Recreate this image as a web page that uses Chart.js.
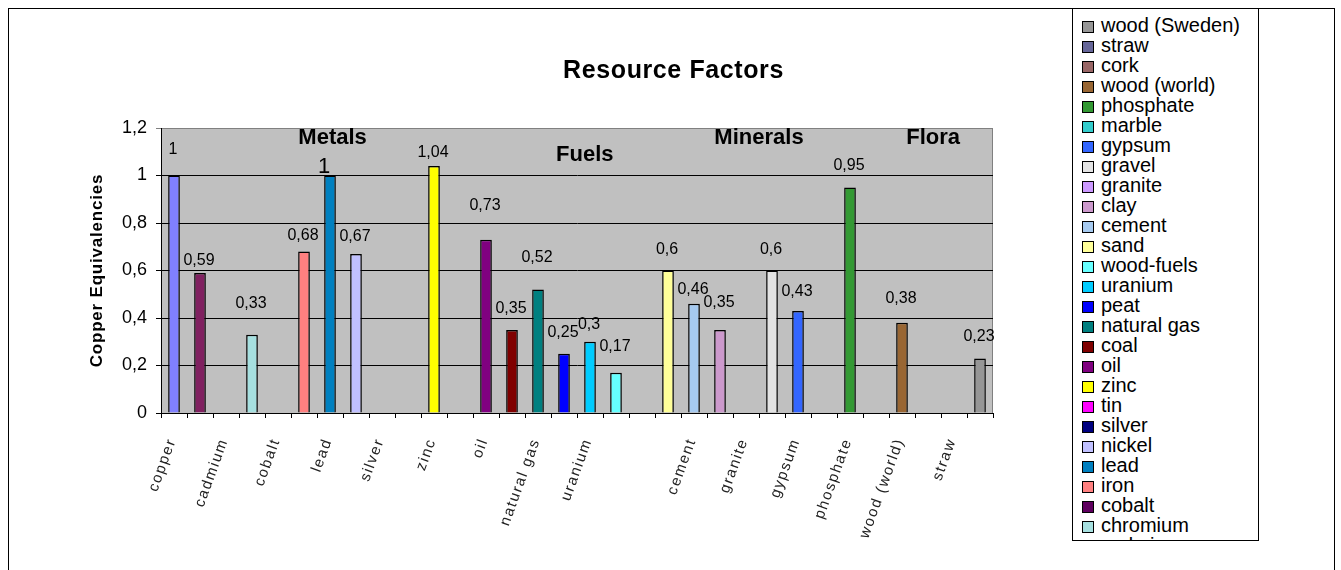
<!DOCTYPE html>
<html>
<head>
<meta charset="utf-8">
<title>Resource Factors</title>
<script src="https://cdn.jsdelivr.net/npm/chart.js@4.4.1/dist/chart.umd.min.js"></script>
<style>
  body { margin: 0; background: #fff; }
  #wrap { position: relative; width: 1341px; height: 570px; overflow: hidden; }
  #frame { position: absolute; left: 8px; top: 8px; width: 1327px; height: 600px; border: 1px solid #000; box-sizing: border-box; }
  #chart { position: absolute; left: 0; top: 0; }
  #legend {
    position: absolute; left: 1072px; top: 8px; width: 187px; height: 533px;
    border: 1px solid #000; box-sizing: border-box; background: #fff; overflow: hidden;
    padding: 6px 0 0 9px;
    font: 20px "Liberation Sans", Arial, sans-serif; color: #000;
  }
  #legend div { height: 20px; line-height: 20px; white-space: nowrap; }
  #legend span { display: inline-block; width: 12px; height: 12px; border: 1px solid #000; box-sizing: border-box; margin-right: 7px; vertical-align: -1px; }
</style>
</head>
<body>
<div id="wrap">
  <div id="frame"></div>
  <canvas id="chart" width="1341" height="570"></canvas>
  <div id="legend"></div>
</div>
<script>
// one category per resource, blank slots separate the groups
const categories = ["copper", "aluminium", "cadmium", "chromium", "cobalt", "iron", "lead", "nickel", "silver", "tin", "zinc", "",
  "oil", "coal", "natural gas", "peat", "uranium", "wood-fuels", "",
  "sand", "cement", "clay", "granite", "gravel", "gypsum", "marble", "phosphate", "",
  "wood (world)", "cork", "straw", "wood (Sweden)"];
const factors = [1, 0.59, null, 0.33, null, 0.68, 1, 0.67, null, null, 1.04, null,
  0.73, 0.35, 0.52, 0.25, 0.3, 0.17, null,
  0.6, 0.46, 0.35, null, 0.6, 0.43, null, 0.95, null,
  0.38, null, null, 0.23];
const fills = ["#8080ff", "#802060", "#ffffcc", "#a6e0e0", "#600060", "#ff8080", "#0080c0", "#c0c0ff", "#000080", "#ff00ff", "#ffff00", null,
  "#800080", "#800000", "#008080", "#0000ff", "#00ccff", "#66ffff", null,
  "#ffff99", "#a6caf0", "#cc99cc", "#cc99ff", "#e3e3e3", "#3366ff", "#33cccc", "#339933", null,
  "#996633", "#996666", "#666699", "#969696"];
const groups = ["Metals", "Fuels", "Minerals", "Flora"];
const yTicks = [0, 0.2, 0.4, 0.6, 0.8, 1, 1.2];

// where the group headings sit (category index, y value)
const groupAt = [[6.1, 1.158], [15.8, 1.087], [22.5, 1.158], [29.2, 1.158]];
// how far above each bar its value label is drawn (px)
const labelLift = [26, 12, 0, 31, 0, 16, 9, 17, 0, 0, 13, 0,
  34, 21, 32, 21, 17, 26, 0,
  21, 14, 27, 0, 21, 19, 0, 22, 0,
  24, 0, 0, 22];

const FONT = '"Liberation Sans", Arial, sans-serif';
const fmt = v => String(Math.round(v * 100) / 100).replace(".", ",");

// legend, last series on top
const legend = document.getElementById("legend");
categories.forEach((name, i) => {
  if (!name) return;
  const row = document.createElement("div");
  row.innerHTML = `<span style="background:${fills[i]}"></span>${name}`;
  legend.prepend(row);
});

const decor = {
  id: "decor",
  beforeDraw(chart) {
    const { ctx, chartArea: a } = chart;
    ctx.save();
    ctx.fillStyle = "#c0c0c0";
    ctx.fillRect(a.left, a.top, a.right - a.left, a.bottom - a.top);
    ctx.strokeStyle = "#808080";
    ctx.lineWidth = 1;
    ctx.strokeRect(a.left + 0.5, a.top + 0.5, a.right - a.left - 1, a.bottom - a.top);
    ctx.restore();
  },
  afterDraw(chart) {
    const { ctx, chartArea: a, scales } = chart;
    const x = scales.x, y = scales.y;
    const bars = chart.getDatasetMeta(0).data;
    ctx.save();
    ctx.fillStyle = "#000";

    // value labels
    ctx.textAlign = "center";
    ctx.textBaseline = "middle";
    factors.forEach((v, i) => {
      if (v == null) return;
      const big = i === 6;
      ctx.font = (big ? "22px " : "16px ") + FONT;
      ctx.fillText(fmt(v), bars[i].x - (big ? 6 : 1), bars[i].y - labelLift[i]);
    });

    // group headings
    ctx.font = "bold 22px " + FONT;
    groups.forEach((g, i) => {
      ctx.fillText(g, x.getPixelForValue(groupAt[i][0]), y.getPixelForValue(groupAt[i][1]));
    });

    // title
    ctx.font = "bold 25px " + FONT;
    ctx.letterSpacing = "0.6px";
    ctx.fillText("Resource Factors", chart.width / 2 + 3, 71);

    // y axis title
    ctx.font = "bold 17px " + FONT;
    ctx.letterSpacing = "0.8px";
    ctx.save();
    ctx.translate(97, (a.top + a.bottom) / 2);
    ctx.rotate(-Math.PI / 2);
    ctx.fillText("Copper Equivalencies", 0, 0);
    ctx.restore();

    // category labels, every other one
    ctx.font = "15px " + FONT;
    ctx.letterSpacing = "1.6px";
    ctx.fillStyle = "#222";
    ctx.textAlign = "right";
    categories.forEach((c, i) => {
      if (i % 2 || !c) return;
      ctx.save();
      ctx.translate(x.getPixelForValue(i) - 2, a.bottom + 26);
      ctx.rotate(-70 * Math.PI / 180);
      ctx.fillText(c, 0, 0);
      ctx.restore();
    });
    ctx.restore();
  }
};

new Chart(document.getElementById("chart"), {
  type: "bar",
  data: {
    labels: categories,
    datasets: [{
      data: factors,
      backgroundColor: fills,
      borderColor: "#000",
      borderWidth: 1.5,
      barPercentage: 0.45,
      categoryPercentage: 1
    }]
  },
  options: {
    responsive: false,
    animation: false,
    devicePixelRatio: 1,
    layout: { padding: { top: 128, right: 348, bottom: 152, left: 0 } },
    plugins: { legend: { display: false }, tooltip: { enabled: false } },
    scales: {
      x: {
        offset: true,
        grid: { offset: true, drawOnChartArea: false, drawTicks: true, tickLength: 5, color: "#000" },
        border: { color: "#000" },
        ticks: { display: false },
        afterFit(s) { s.height = 5; }
      },
      y: {
        min: 0,
        max: 1.2,
        afterBuildTicks(s) { s.ticks = yTicks.map(v => ({ value: v })); },
        ticks: { callback: v => fmt(v), color: "#000", padding: 9, font: { size: 18, family: FONT } },
        grid: { color: c => c.tick && c.tick.value === 1.2 ? "#808080" : "#000", tickLength: 5 },
        border: { color: "#000" },
        afterFit(s) { s.width = 161; }
      }
    }
  },
  plugins: [decor]
});
</script>
</body>
</html>
